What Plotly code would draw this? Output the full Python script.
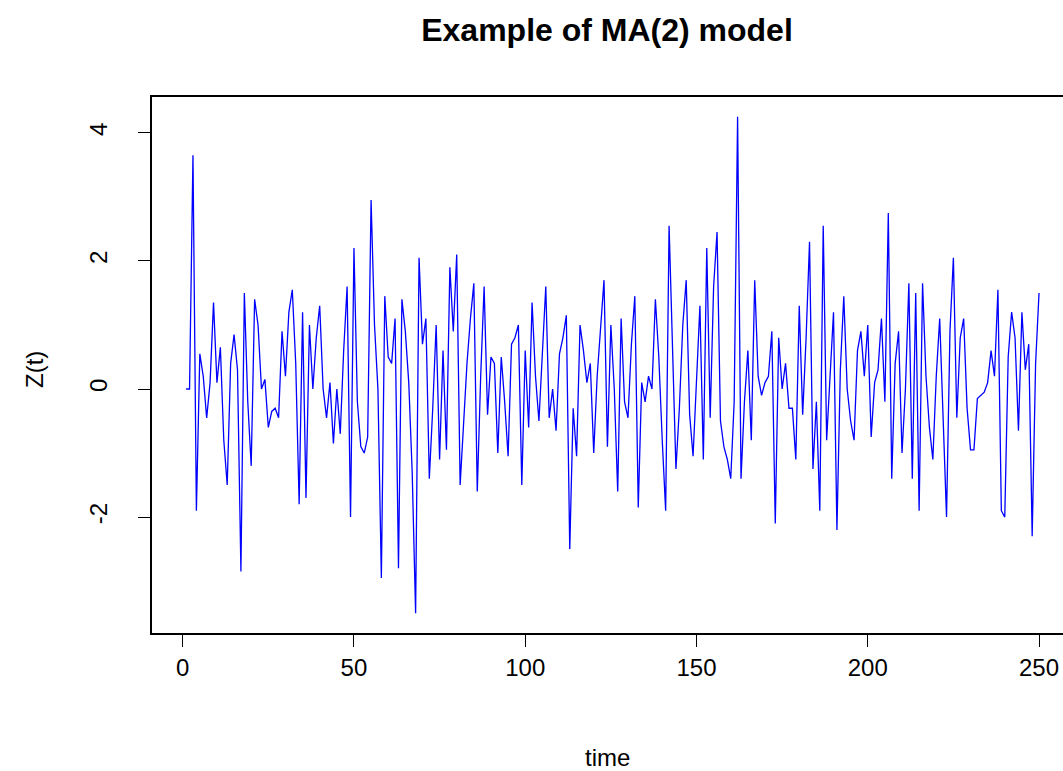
import plotly.graph_objects as go

# time index and simulated MA(2) values
time = list(range(1, 251))
z_values = [
    0, 0, 3.65, -1.9, 0.55, 0.2, -0.45, 0.1, 1.35, 0.1,
    0.65, -0.8, -1.5, 0.4, 0.85, 0.3, -2.85, 1.5, -0.2, -1.2,
    1.4, 1.0, 0.0, 0.15, -0.6, -0.35, -0.3, -0.45, 0.9, 0.2,
    1.2, 1.55, 0.4, -1.8, 1.2, -1.7, 1.0, 0.0, 0.8, 1.3,
    0.0, -0.45, 0.1, -0.85, 0.0, -0.7, 0.6, 1.6, -2.0, 2.2,
    -0.2, -0.9, -1.0, -0.75, 2.95, 1.0, 0.0, -2.95, 1.45, 0.5,
    0.4, 1.1, -2.8, 1.4, 0.9, 0.1, -1.3, -3.5, 2.05, 0.7,
    1.1, -1.4, -0.3, 1.0, -1.1, 0.6, -0.95, 1.9, 0.9, 2.1,
    -1.5, -0.5, 0.4, 1.1, 1.65, -1.6, 0.2, 1.6, -0.4, 0.5,
    0.4, -1.0, 0.5, -0.2, -1.05, 0.7, 0.8, 1.0, -1.5, 0.6,
    -0.6, 1.35, 0.2, -0.5, 0.5, 1.6, -0.45, 0.0, -0.65, 0.55,
    0.8, 1.15, -2.5, -0.3, -1.05, 1.0, 0.6, 0.1, 0.4, -1.0,
    0.2, 1.0, 1.7, -0.9, 1.0, 0.0, -1.6, 1.1, -0.2, -0.45,
    0.7, 1.45, -1.85, 0.1, -0.2, 0.2, 0.0, 1.4, 0.5, -0.8,
    -1.9, 2.55, 0.5, -1.25, -0.3, 1.0, 1.7, -0.4, -1.05, 0.1,
    1.3, -1.1, 2.2, -0.45, 1.6, 2.45, -0.5, -0.9, -1.1, -1.4,
    -0.2, 4.25, -1.4, -0.2, 0.6, -0.8, 1.7, 0.2, -0.1, 0.1,
    0.2, 0.9, -2.1, 0.8, 0.0, 0.4, -0.3, -0.3, -1.1, 1.3,
    -0.4, 0.8, 2.3, -1.25, -0.2, -1.9, 2.55, -0.8, 0.2, 1.2,
    -2.2, 0.3, 1.45, 0.0, -0.5, -0.8, 0.6, 0.9, 0.2, 1.0,
    -0.75, 0.1, 0.3, 1.1, -0.2, 2.75, -1.4, 0.4, 0.9, -1.0,
    0.0, 1.65, -1.4, 1.5, -1.9, 1.65, 0.2, -0.6, -1.1, 0.2,
    1.1, -0.3, -2.0, 0.9, 2.05, -0.45, 0.8, 1.1, -0.3, -0.95,
    -0.95, -0.15, -0.1, -0.05, 0.1, 0.6, 0.2, 1.55, -1.9, -2.0,
    0.5, 1.2, 0.8, -0.65, 1.2, 0.3, 0.7, -2.3, 0.4, 1.5,
]
x_ticks = [0, 50, 100, 150, 200, 250]
y_ticks = [-2, 0, 2, 4]

FONT = "Liberation Sans, Arial, sans-serif"

fig = go.Figure()
fig.add_trace(go.Scatter(
    x=time, y=z_values, mode="lines",
    line=dict(color="#0000ff", width=1.3),
    hoverinfo="skip", showlegend=False,
))

fig.update_layout(
    width=1063, height=771,
    margin=dict(l=152, r=0, t=97, b=138),
    paper_bgcolor="white", plot_bgcolor="white",
    font=dict(family=FONT, color="black", size=24),
    title=dict(text="<b>Example of MA(2) model</b>", x=607 / 1063, xanchor="center",
               y=1 - 30 / 771, yanchor="middle",
               font=dict(family=FONT, size=32, color="black")),
    xaxis=dict(
        range=[-8.96, 257.0], tickvals=x_ticks, ticktext=[str(v) for v in x_ticks],
        showgrid=False, zeroline=False, showline=True, mirror=True,
        linecolor="black", linewidth=1.5, ticks="outside", ticklen=12,
        tickcolor="black", tickwidth=1, tickfont=dict(size=24),
    ),
    yaxis=dict(
        range=[-3.81, 4.56], tickvals=y_ticks, ticktext=[str(v) for v in y_ticks],
        showgrid=False, zeroline=False, showline=True, mirror=False,
        linecolor="black", linewidth=1.5, ticks="outside", ticklen=12,
        tickcolor="black", tickwidth=1, tickangle=-90, tickfont=dict(size=24),
        ticklabelstandoff=22,
    ),
    annotations=[
        dict(text="time", xref="paper", yref="paper", x=0.5, y=(633 - 757) / 536,
             xanchor="center", yanchor="middle", showarrow=False,
             font=dict(size=24)),
        dict(text="Z(t)", xref="paper", yref="paper", x=(35 - 152) / 911, y=(633 - 370) / 536,
             xanchor="center", yanchor="middle", showarrow=False, textangle=-90,
             font=dict(size=24)),
    ],
)

fig.write_html("out.html")
